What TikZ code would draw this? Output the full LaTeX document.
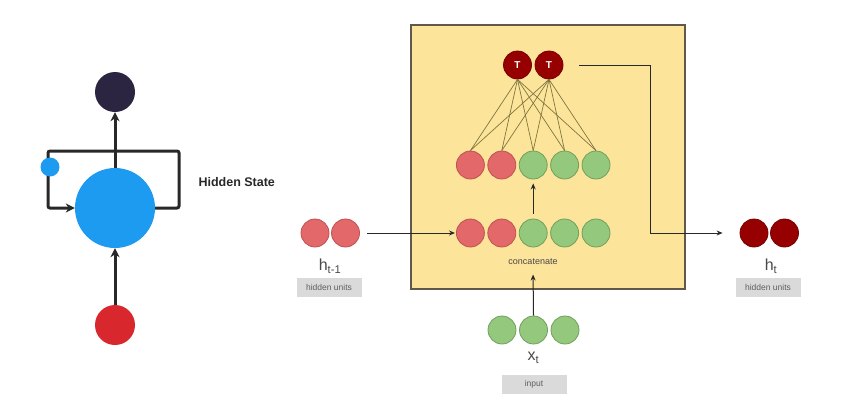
\documentclass[tikz,border=0pt]{standalone}
\usepackage{fontspec}
\setmainfont{Liberation Sans}
\usepackage{tikz}
\usetikzlibrary{arrows.meta, positioning, calc}
\definecolor{rnnblue}{RGB}{28,155,240}
\definecolor{rnndark}{RGB}{43,37,66}
\definecolor{rnnred}{RGB}{216,40,46}
\definecolor{unitred}{RGB}{226,104,106}
\definecolor{unitredline}{RGB}{190,82,82}
\definecolor{unitgreen}{RGB}{148,200,125}
\definecolor{unitgreenline}{RGB}{112,160,92}
\definecolor{tanhred}{RGB}{150,0,0}
\definecolor{cellfill}{RGB}{253,228,155}
\definecolor{cellframe}{RGB}{95,88,75}
\definecolor{fanline}{RGB}{125,118,62}
\definecolor{tagfill}{RGB}{218,218,218}
\definecolor{tagtext}{RGB}{95,95,95}
\definecolor{wire}{RGB}{40,40,40}
\tikzset{
  bigdot/.style={circle, inner sep=0pt, minimum size=40pt},
  unit/.style={circle, inner sep=0pt, minimum size=28pt, line width=0.8pt},
  redunit/.style={unit, fill=unitred, draw=unitredline},
  greenunit/.style={unit, fill=unitgreen, draw=unitgreenline},
  darkunit/.style={unit, fill=tanhred, draw=tanhred!80!black},
  tanhunit/.style={darkunit, text=white, font=\bfseries\fontsize{10}{10}\selectfont},
  tag/.style={rectangle, fill=tagfill, text=tagtext, minimum width=65pt,
    minimum height=19pt, inner sep=0pt, font=\fontsize{8.5}{9}\selectfont},
  vecname/.style={font=\fontsize{16}{16}\selectfont, text=wire!85},
  thickarrow/.style={-{Stealth[length=9pt,width=9pt]}, line width=3pt, color=wire},
  arrow/.style={-{Stealth[length=6pt,width=5pt]}, line width=1pt, color=wire},
  fan/.style={line width=0.7pt, color=fanline}
}

\begin{document}
\begin{tikzpicture}[x=1pt, y=-1pt]
  \useasboundingbox (0,0) rectangle (842,408);

  % Folded RNN on the left
  \node[bigdot, fill=rnndark] (out) at (115,92) {};
  \node[bigdot, fill=rnnblue, minimum size=80pt] (hid) at (115,208) {};
  \node[bigdot, fill=rnnred] (inp) at (115,325) {};
  \coordinate (loopa) at (179,151);
  \coordinate (loopb) at (48,151);
  \draw[thickarrow, rounded corners=2pt] (hid.east) -| (loopa) -- (loopb) |- (hid.west);
  \node[circle, fill=rnnblue, inner sep=0pt, minimum size=19pt] (mem) at (50,167) {};
  \draw[thickarrow] (hid.north) -- (out.south);
  \draw[thickarrow] (inp.north) -- (hid.south);
  \node[anchor=west, text=wire, font=\bfseries\fontsize{12.5}{13}\selectfont] (hslabel) at (195,182) {Hidden State};

  % Cell box
  \node[rectangle, draw=cellframe, fill=cellfill, line width=1.5pt, inner sep=0pt,
    minimum width=274pt, minimum height=264pt] (cell) at (548,157) {};

  % Concatenated vector and hidden layer
  \foreach \i/\sty in {1/redunit, 2/redunit, 3/greenunit, 4/greenunit, 5/greenunit} {
    \node[\sty] (c\i) at ({439+31.4*\i},233) {};
    \node[\sty] (u\i) at ({439+31.4*\i},165) {};
  }
  \node[tanhunit] (t1) at (517.5,65) {T};
  \node[tanhunit] (t2) at (549,65) {T};
  \foreach \t in {1,2}
    \foreach \i in {1,...,5}
      \draw[fan] (t\t.south) -- (u\i.north);
  \node[text=wire!85, font=\fontsize{9}{9}\selectfont] (cat) at (533,262) {concatenate};
  \draw[arrow, shorten <=5pt, shorten >=4pt] (c3) -- (u3);

  % Previous hidden state
  \node[redunit] (p1) at (315,233) {};
  \node[redunit] (p2) at (345.5,233) {};
  \node[vecname] (pname) at (330,266) {h\textsubscript{t-1}};
  \node[tag] (ptag) at (329,287) {hidden units};
  \draw[arrow, shorten <=7pt, shorten >=1pt] (p2) -- (c1);

  % Input
  \foreach \i in {1,2,3}
    \node[greenunit] (x\i) at ({470.5+31.5*\i},330) {};
  \node[vecname] (xname) at (533.5,358) {x\textsubscript{t}};
  \node[tag] (xtag) at (534,384) {input};
  \draw[arrow, shorten >=6pt] (x2.north) -- (cat.south);

  % Next hidden state
  \node[darkunit] (n1) at (754,233) {};
  \node[darkunit] (n2) at (784.5,233) {};
  \node[vecname] (nname) at (771,266) {h\textsubscript{t}};
  \node[tag] (ntag) at (768,287) {hidden units};
  \coordinate (bend) at (650,233);
  \draw[arrow, shorten <=16pt, shorten >=17pt] (t2.east) -| (bend) -- (n1.west);
\end{tikzpicture}
\end{document}
